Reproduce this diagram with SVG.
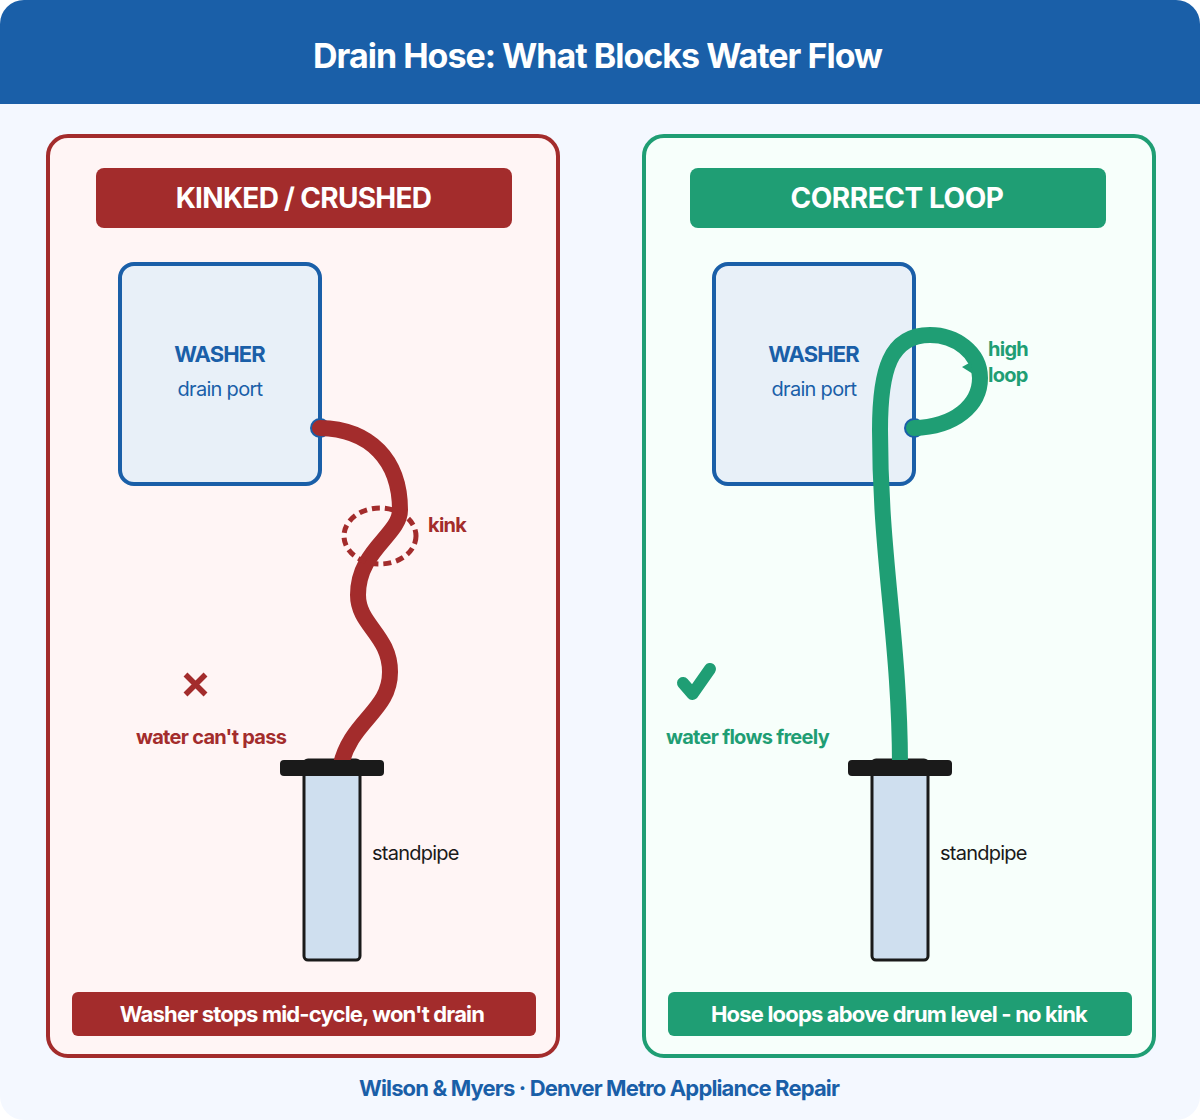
<svg xmlns="http://www.w3.org/2000/svg" width="1200" height="1120" viewBox="0 0 1200 1120">
<style>
text{font-family:Inter,"Liberation Sans",sans-serif}
.panel{stroke-width:4}
.banner{font-size:28px;font-weight:700;fill:#fff;text-anchor:middle}
.cap{font-size:22px;font-weight:700;fill:#fff;text-anchor:middle;letter-spacing:-.82px}
.w{font-size:22px;font-weight:700;fill:#1a5fa8;text-anchor:middle;letter-spacing:-.9px}
.p{font-size:20px;fill:#1a5fa8;text-anchor:middle;letter-spacing:-.7px}
.s{font-size:20px;fill:#1a1a1a;letter-spacing:-.75px}
.note{font-size:20px;font-weight:700;letter-spacing:-.72px}
.hose{fill:none;stroke-width:16;stroke-linecap:round}
.washer{fill:#e8f0f8;stroke:#1a5fa8;stroke-width:4}
.pipe{fill:#cfdfef;stroke:#1a1a1a;stroke-width:3}
</style>
<rect width="1200" height="1120" rx="24" fill="#f4f8ff"/>
<g id="header"><path d="M0 104V24A24 24 0 0 1 24 0H1176A24 24 0 0 1 1200 24V104Z" fill="#1a5fa8"/>
<text x="597.500" y="68" font-size="34" font-weight="700" fill="#fff" text-anchor="middle" letter-spacing="-1">Drain Hose: What Blocks Water Flow</text></g>
<g id="panel-bad">
<rect class="panel" x="48" y="136" width="510" height="920" rx="20" fill="#fff5f5" stroke="#a32c2c"/>
<rect x="96" y="168" width="416" height="60" rx="8" fill="#a32c2c"/>
<text class="banner" x="303.500" y="208" letter-spacing="-.7">KINKED / CRUSHED</text></g>
<g id="washer-bad"><rect class="washer" x="120" y="264" width="200" height="220" rx="14"/>
<text class="w" x="219.500" y="362">WASHER</text><text class="p" x="220" y="396">drain port</text>
<circle cx="320" cy="428" r="10" fill="#1a5fa8"/></g>
<g id="standpipe-bad"><rect class="pipe" x="304" y="760" width="56" height="200" rx="4"/>
<text class="s" x="372" y="860">standpipe</text></g>
<g id="connectors-bad">
<path class="hose" stroke="#a32c2c" d="M320 428C370 429 400 460 400 510C400 535 358 550 358 595C358 625 390 635 390 672C390 712 350 720 340 768"/>
</g>
<rect x="280" y="760" width="104" height="16" rx="4" fill="#1a1a1a"/>
<g id="kink"><ellipse cx="380" cy="536" rx="36" ry="28" fill="none" stroke="#a32c2c" stroke-width="5" stroke-dasharray="8 5"/>
<text class="note" x="428" y="532" fill="#a32c2c" letter-spacing="-.45">kink</text></g>
<g id="status-bad"><path d="M185.500 674.500L205.500 694.500M205.500 674.500L185.500 694.500" stroke="#a32c2c" stroke-width="5.500" fill="none"/>
<text class="note" x="136" y="744" fill="#a32c2c">water can't pass</text></g>
<g id="caption-bad"><rect x="72" y="992" width="464" height="44" rx="6" fill="#a32c2c"/>
<text class="cap" x="302" y="1022">Washer stops mid-cycle, won't drain</text></g>
<g id="panel-good">
<rect class="panel" x="644" y="136" width="510" height="920" rx="20" fill="#f7fffb" stroke="#1f9e74"/>
<rect x="690" y="168" width="416" height="60" rx="8" fill="#1f9e74"/>
<text class="banner" x="897" y="208" letter-spacing="-.45">CORRECT LOOP</text></g>
<g id="washer-good"><rect class="washer" x="714" y="264" width="200" height="220" rx="14"/>
<text class="w" x="813.500" y="362">WASHER</text><text class="p" x="814" y="396">drain port</text>
<circle cx="914" cy="428" r="10" fill="#1a5fa8"/></g>
<g id="standpipe-good"><rect class="pipe" x="872" y="760" width="56" height="200" rx="4"/>
<text class="s" x="940" y="860">standpipe</text></g>
<g id="connectors-good">
<path class="hose" stroke="#1f9e74" d="M914 428C955 427 980 405 980 378C980 352 955 335 930 335C890 335 880 370 880 430C880 560 900 640 900 768"/>
<polygon points="962,367 971,362 973,374" fill="#1f9e74"/>
</g>
<rect x="848" y="760" width="104" height="16" rx="4" fill="#1a1a1a"/>
<g id="loop-label"><text class="note" x="988" y="356" fill="#1f9e74" letter-spacing="-.3">high</text><text class="note" x="988" y="382" fill="#1f9e74" letter-spacing="-.3">loop</text></g>
<g id="status-good"><path d="M683 683L692.500 694L710 669" stroke="#1f9e74" stroke-width="12" fill="none" stroke-linecap="round" stroke-linejoin="round"/>
<text class="note" x="666" y="744" fill="#1f9e74" letter-spacing="-.76">water flows freely</text></g>
<g id="caption-good"><rect x="668" y="992" width="464" height="44" rx="6" fill="#1f9e74"/>
<text class="cap" x="899" y="1022">Hose loops above drum level - no kink</text></g>
<text id="footer" x="599" y="1096" font-size="22" font-weight="700" fill="#1a5fa8" text-anchor="middle" letter-spacing="-.85">Wilson &amp; Myers · Denver Metro Appliance Repair</text>
</svg>
